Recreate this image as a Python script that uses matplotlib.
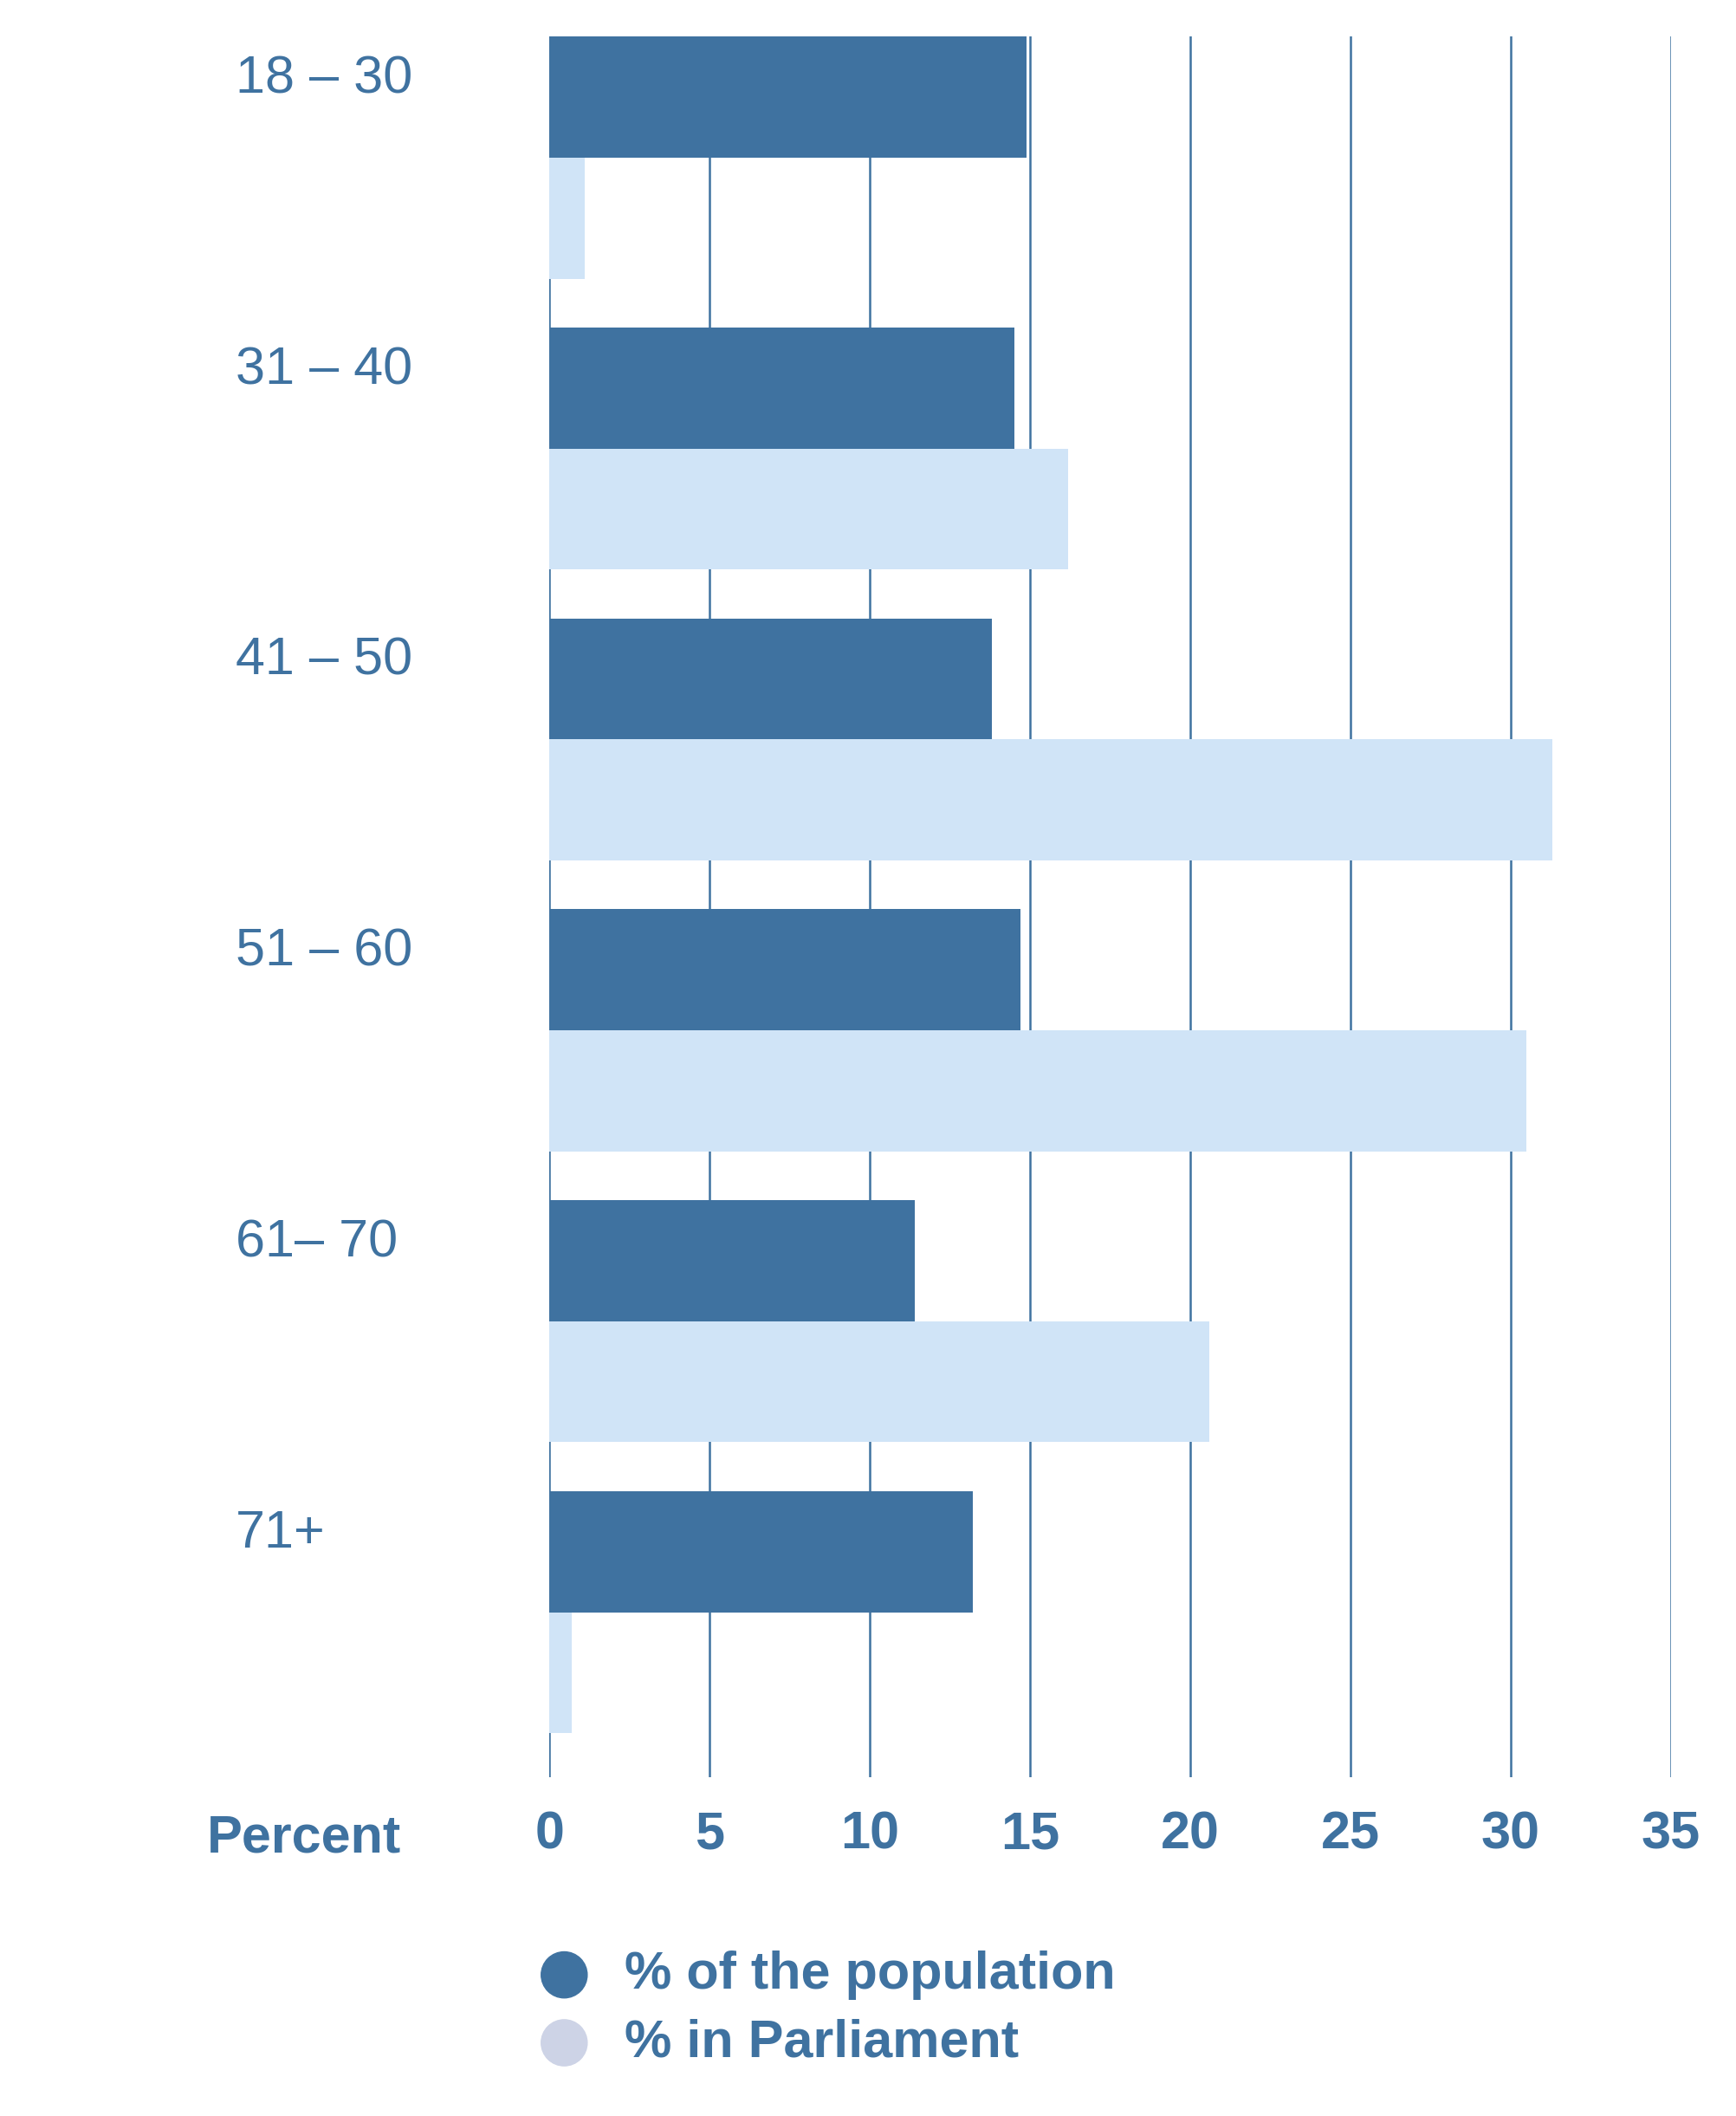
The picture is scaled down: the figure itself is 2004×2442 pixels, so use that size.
import matplotlib
matplotlib.use("Agg")
import matplotlib.pyplot as plt
import numpy as np

groups = ["18 – 30", "31 – 40", "41 – 50", "51 – 60", "61– 70", "71+"]
population = [14.9, 14.5, 13.8, 14.7, 11.4, 13.2]
parliament = [1.1, 16.2, 31.3, 30.5, 20.6, 0.7]
ticks = [0, 5, 10, 15, 20, 25, 30, 35]

dark = "#3f72a0"
light = "#d0e4f7"
plt.rcParams["font.family"] = "Liberation Sans"
fs = 44

fig = plt.figure(figsize=(20.04, 24.42), dpi=100)
ax = fig.add_axes([0.3165, 0.1603, 0.9625 - 0.3165, 0.9827 - 0.1603])
y = np.arange(len(groups))
h = 0.416
ax.barh(y - h / 2, population, height=h, color=dark, zorder=2)
ax.barh(y + h / 2, parliament, height=h, color=light, zorder=2)
for t in ticks:
    ax.axvline(t, color=dark, lw=1.8, zorder=1)
ax.set_xlim(0, 35)
ax.set_ylim(5.566, -0.416)
for s in ax.spines.values():
    s.set_visible(False)
ax.set_yticks([])
ax.set_xticks(ticks)
ax.tick_params(axis="x", length=0, pad=28, labelsize=fs, labelcolor=dark)
for lab in ax.get_xticklabels():
    lab.set_fontweight("bold")

for i, g in enumerate(groups):
    ax.text(-9.8, i - h / 2 - 0.06, g, fontsize=fs, color=dark, ha="left", va="center")
fig.text(0.119, 0.131, "Percent", fontsize=fs, color=dark, fontweight="bold", va="center")

fig.patches.append(matplotlib.patches.Ellipse((0.325, 0.0667), 0.0265, 0.0218, transform=fig.transFigure, color=dark))
fig.patches.append(matplotlib.patches.Ellipse((0.325, 0.0346), 0.0265, 0.0218, transform=fig.transFigure, color="#cdd3e6"))
fig.text(0.36, 0.0667, "% of the population", fontsize=fs, color=dark, fontweight="bold", va="center")
fig.text(0.36, 0.0346, "% in Parliament", fontsize=fs, color=dark, fontweight="bold", va="center")

fig.savefig("out.png")
